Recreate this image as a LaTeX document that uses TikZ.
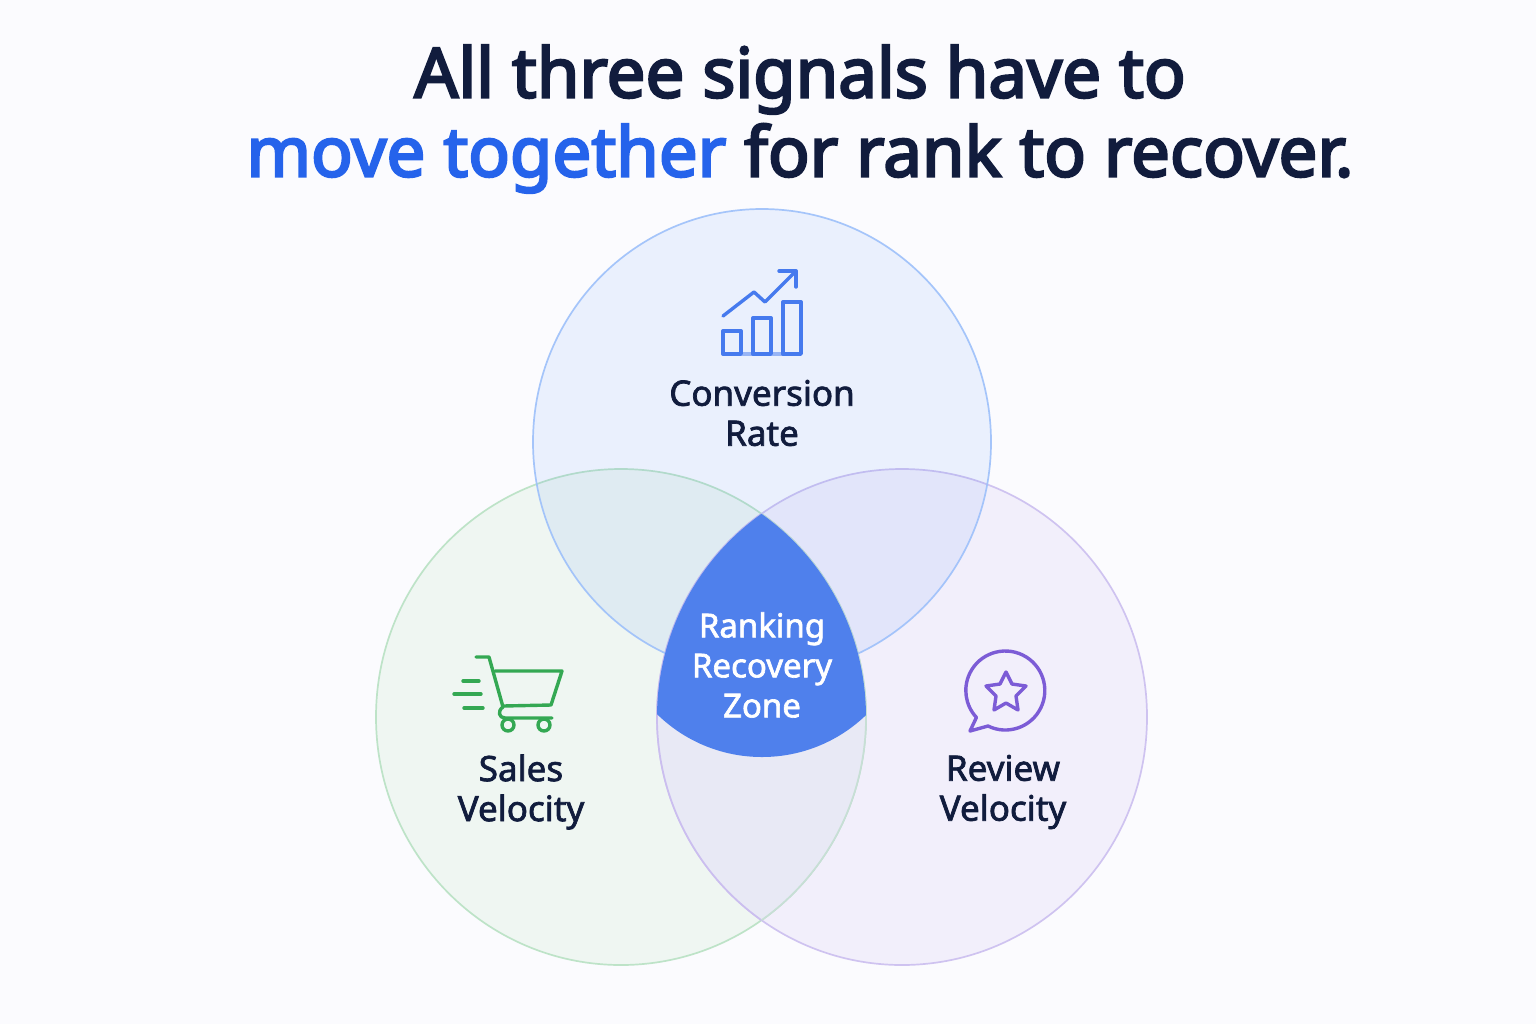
\documentclass[tikz,border=0pt]{standalone}
\usepackage{fontspec}
\usepackage{xcolor}
\setmainfont{Noto Sans}
\newfontfamily\headfont{Noto Sans}[FakeBold=3.4]
\newfontfamily\labelfont{Noto Sans}[FakeBold=2]
\definecolor{navy}{HTML}{111C3D}
\definecolor{accentblue}{HTML}{2563EB}
\definecolor{zoneblue}{HTML}{4F80EC}
\definecolor{pagebg}{HTML}{FBFBFE}
\definecolor{lensfill}{HTML}{E8E9F5}
\definecolor{rateblue}{HTML}{3B82F6}
\definecolor{salesgreen}{HTML}{34A853}
\definecolor{softgreen}{HTML}{3DAA35}
\definecolor{reviewpurple}{HTML}{7C5CD6}
\usetikzlibrary{arrows.meta,positioning,calc}
\tikzset{
  headline/.style={align=center, text=navy, font=\fontsize{34.5}{39.5}\selectfont\headfont, inner sep=0pt},
  vennlabel/.style={align=center, text=navy, font=\fontsize{17.5}{20}\selectfont\labelfont, inner sep=0pt},
  zonelabel/.style={vennlabel, text=white, font=\fontsize{16.5}{20}\selectfont\labelfont},
  ratecircle/.style={fill=rateblue, fill opacity=0.085, draw=rateblue!50, draw opacity=0.9, line width=0.85pt},
  salescircle/.style={fill=softgreen, fill opacity=0.06, draw=salesgreen!35, draw opacity=0.9, line width=0.85pt},
  reviewcircle/.style={fill=reviewpurple, fill opacity=0.07, draw=reviewpurple!40, draw opacity=0.9, line width=0.85pt},
  icon/.style={line width=1.7pt, line cap=round, line join=round}
}
\begin{document}
\begin{tikzpicture}[x=0.5pt, y=-0.5pt]
  \useasboundingbox (0,0) rectangle (1536,1024);
  \fill[pagebg] (0,0) rectangle (1536,1024);

  % circles
  \draw[salescircle] (621,717) ellipse [x radius=245, y radius=248];
  \draw[reviewcircle] (902,717) ellipse [x radius=245, y radius=248];
  \begin{scope}
    \clip (621,717) ellipse [x radius=245, y radius=248];
    \fill[lensfill] (902,717) ellipse [x radius=245, y radius=248];
    \draw[reviewpurple!40, line width=0.85pt] (902,717) ellipse [x radius=245, y radius=248];
  \end{scope}
  \begin{scope}
    \clip (902,717) ellipse [x radius=245, y radius=248];
    \draw[reviewpurple!25!salesgreen!30, line width=0.85pt] (621,717) ellipse [x radius=245, y radius=248];
  \end{scope}
  \draw[ratecircle] (762,442) ellipse [x radius=229, y radius=233];

  % centre zone
  \begin{scope}
    \clip (621,717) ellipse [x radius=245, y radius=248];
    \clip (902,717) ellipse [x radius=245, y radius=248];
    \fill[zoneblue] (762,607) circle [radius=150];
  \end{scope}

  \node[headline] (title) at (800,119) {All three signals have to\\\textcolor{accentblue}{move together} for rank to recover.};

  \node[vennlabel] (rate) at (762,413) {Conversion\\Rate};
  \node[vennlabel] (sales) at (521,792) {Sales\\Velocity};
  \node[vennlabel] (review) at (1003,792) {Review\\Velocity};
  \node[zonelabel] (zone) at (762,665) {Ranking\\Recovery\\Zone};

  % chart icon
  \begin{scope}[icon, draw=accentblue!85!white]
    \draw (723,331) rectangle (741,354);
    \draw (753,318) rectangle (771,354);
    \draw (783,302) rectangle (801,354);
    \draw[opacity=0.5] (741,354) -- (753,354) (771,354) -- (783,354);
    \draw (723,316) -- (754,292) -- (765,302) -- (795,272);
    \draw (779,271) -- (796,271) -- (796,287);
  \end{scope}

  % cart icon
  \begin{scope}[icon, draw=salesgreen]
    \draw (476,657) -- (489,657) -- (503,707) .. controls (497,711) and (499,718) .. (505,718) -- (552,718);
    \draw (495,671) -- (562,671) -- (551,705) -- (503,706);
    \draw (508,725) circle [radius=6];
    \draw (544,725) circle [radius=6];
    \draw (463,681) -- (479,681);
    \draw (454,694) -- (481,694);
    \draw (464,708) -- (483,708);
  \end{scope}

  % speech bubble icon
  \begin{scope}[icon, draw=reviewpurple]
    \draw (988,726) arc [start angle=116, end angle=-223, radius=39.5] -- (970,731) -- cycle;
    \draw (1006,672) -- (1012,684) -- (1026,686) -- (1016,696) -- (1018,710) -- (1006,703) -- (994,710) -- (996,696) -- (986,686) -- (1000,684) -- cycle;
  \end{scope}
\end{tikzpicture}
\end{document}
